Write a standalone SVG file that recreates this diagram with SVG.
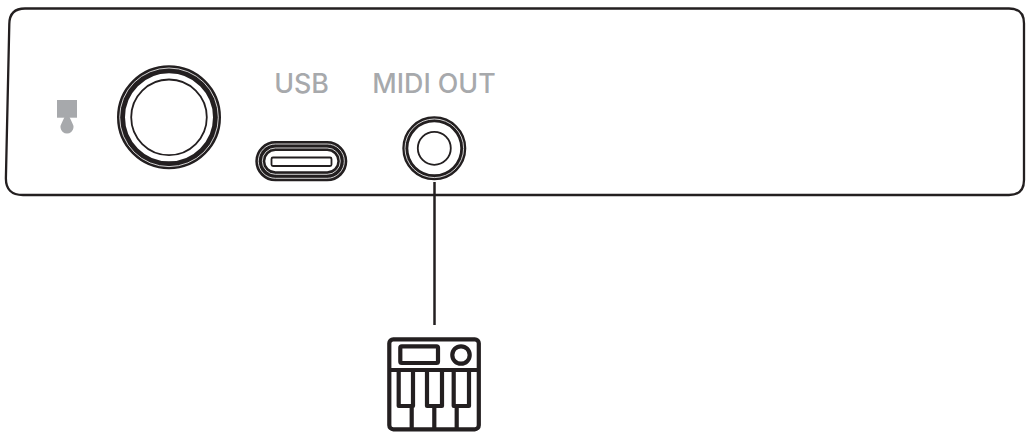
<svg xmlns="http://www.w3.org/2000/svg" width="1030" height="444" viewBox="0 0 1030 444">
<style>
.l{fill:none;stroke:#231f20}
.w{fill:none;stroke:#fff;stroke-width:.8}
.k{fill:none;stroke:#231f20;stroke-width:4.200;stroke-linejoin:round}
.t{font-family:"Inter","Liberation Sans",sans-serif;font-size:26.800px;fill:#a7a9ac;font-weight:500}
</style>
<rect width="1030" height="444" fill="#fff"/>
<g id="panel"><path class="l" stroke-width="2.300" d="M25 8.500H1009Q1024 8.500 1024 23.500V180Q1024 195 1009 195H23Q5.600 195 5.900 178L9.300 24Q9.500 8.500 25 8.500Z"/></g>
<g id="lock"><rect x="57" y="100" width="20" height="17.700" fill="#a7a9ac"/><path d="M64.500 117H69.500L72.500 123.500A6.500 6.500 0 1 1 61.500 123.500Z" fill="#a7a9ac"/></g>
<g id="knob"><circle class="l" cx="169" cy="117.300" r="48" stroke-width="8"/><circle class="w" cx="169" cy="117.300" r="49.300"/><circle class="l" cx="169" cy="117.300" r="37.800" stroke-width="1.800"/></g>
<g id="usb"><text class="t" x="301.500" y="93" text-anchor="middle">USB</text>
<rect class="l" x="260.300" y="146" width="82" height="30.300" rx="15.100" stroke-width="10"/><rect class="w" x="258.300" y="144" width="86" height="34.300" rx="17.100"/><rect class="w" x="262.300" y="148" width="78" height="26.300" rx="13.100"/>
<rect class="l" x="271.500" y="157.500" width="60" height="8.500" rx="1.500" stroke-width="1.800"/></g>
<g id="midi"><text class="t" x="434" y="93" text-anchor="middle">MIDI OUT</text>
<circle class="l" cx="434.300" cy="148.300" r="29" stroke-width="6"/><circle class="w" cx="434.300" cy="148.300" r="29.300"/><circle class="l" cx="434.300" cy="148.300" r="16.500" stroke-width="1.800"/></g>
<g id="connectors"><path class="l" stroke-width="2.500" d="M434.500 182V325"/></g>
<g id="keyboard"><rect class="k" x="389.300" y="339.300" width="89.500" height="90" rx="4"/>
<path class="k" d="M389.300 370H478.800"/>
<rect class="k" x="400.300" y="346.300" width="37.700" height="16.700" rx="1.500"/>
<circle class="k" cx="461" cy="355" r="8.700"/>
<path class="k" d="M398.700 370V406H413V370M427 370V406H442V370M453.700 370V406H469V370M411.700 406V429M434.300 406V429M456.700 406V429"/></g>
</svg>
